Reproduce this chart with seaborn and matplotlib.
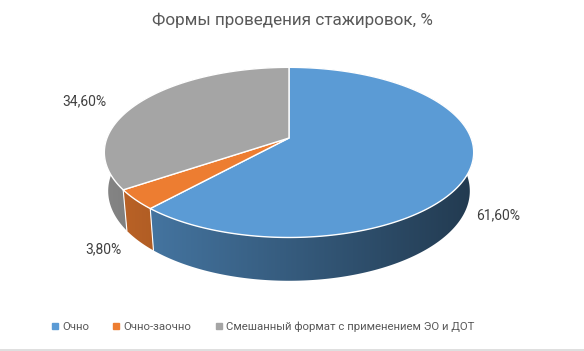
import numpy as np
import matplotlib
matplotlib.use("Agg")
import matplotlib.pyplot as plt
from matplotlib.patches import Polygon
from matplotlib.lines import Line2D
import seaborn as sns

# ---- data ----
categories = ["Очно", "Очно-заочно", "Смешанный формат с применением ЭО и ДОТ"]
values = [61.6, 3.8, 34.6]
value_labels = ["61,60%", "3,80%", "34,60%"]
title = "Формы проведения стажировок, %"
colors = ["#5B9BD5", "#ED7D31", "#A5A5A5"]

sns.set_theme(style="white")
plt.rcParams["font.family"] = ["Roboto", "DejaVu Sans"]
palette = sns.color_palette(colors)

W, H = 584, 351
fig = plt.figure(figsize=(W / 100, H / 100), dpi=100)
ax = fig.add_axes([0, 0, 1, 1])
ax.set_xlim(0, W)
ax.set_ylim(H, 0)
ax.axis("off")

# ---- 3D pie geometry (layout) ----
cx, cy = 289.0, 138.0
S = 182.0
elev = np.radians(27.0)
D = 5.26
h = 0.24


def proj(phi_deg, r, Y):
    phi = np.radians(phi_deg)
    X = r * np.sin(phi)
    Z = -r * np.cos(phi)
    yv = Y * np.cos(elev) - Z * np.sin(elev)
    zv = Y * np.sin(elev) + Z * np.cos(elev)
    s = D / (D - zv)
    return cx + X * s * S, cy - yv * s * S, zv


total = sum(values)
bounds = np.concatenate([[0], np.cumsum(values) / total * 360.0])

# walls with horizontal shading gradient
x0, x1 = cx - S - 10, cx + S + 10
xs = np.linspace(x0, x1, 400)
tt = np.clip((xs - (cx - S)) / (2 * S), 0, 1)
shade = 0.80 - 0.42 * tt
for i in range(len(values)):
    a, b = bounds[i], bounds[i + 1]
    ph = np.linspace(a, b, max(3, int((b - a) * 2)))
    top = [proj(p, 1, 0)[:2] for p in ph]
    bot = [proj(p, 1, -h)[:2] for p in ph[::-1]]
    wall = Polygon(top + bot, closed=True, facecolor="none", edgecolor="none")
    ax.add_patch(wall)
    img = np.array(palette[i])[None, None, :] * shade[None, :, None]
    im = ax.imshow(img, extent=(x0, x1, H, 0), aspect="auto", zorder=1,
                   interpolation="bilinear")
    im.set_clip_path(wall)
ax.set_xlim(0, W)
ax.set_ylim(H, 0)

# white vertical edges at slice boundaries on the front
for bnd in bounds[1:-1]:
    if np.cos(np.radians(bnd)) < 0:
        t0 = proj(bnd, 1, 0); b0 = proj(bnd, 1, -h)
        ax.plot([t0[0], b0[0]], [t0[1], b0[1]], color="white", lw=0.8, zorder=2)

# top faces
apex = proj(0, 0, 0)
for i in range(len(values)):
    a, b = bounds[i], bounds[i + 1]
    ph = np.linspace(a, b, max(3, int((b - a) * 2)))
    pts = [(apex[0], apex[1])] + [proj(p, 1, 0)[:2] for p in ph]
    ax.add_patch(Polygon(pts, closed=True, facecolor=palette[i], edgecolor="white",
                         lw=1.0, joinstyle="round", zorder=3))

# data labels
label_r = [1.17, 1.2, 1.42]
label_Y = [-h, -0.2, -0.08]
for i in range(len(values)):
    mid = (bounds[i] + bounds[i + 1]) / 2
    x, y, _ = proj(mid, label_r[i], label_Y[i])
    ax.text(x, y, value_labels[i], ha="center", va="center", fontsize=10,
            color="#404040", zorder=5)

# title
fig.text(0.5, 1 - 20 / H, title, ha="center", va="center", fontsize=12.3, color="#595959")

# legend
handles = [Line2D([0], [0], marker="s", linestyle="", markersize=4.2,
                  markerfacecolor=palette[i], markeredgecolor=palette[i]) for i in range(len(values))]
fig.legend(handles, categories, loc="center", bbox_to_anchor=(262.5 / W, 1 - 327 / H), ncol=3,
           frameon=False, fontsize=8.2, labelcolor="#595959", handletextpad=0.25,
           columnspacing=2.0, handlelength=0.8)

ax.plot([0, W], [349.5, 349.5], color="#D9D9D9", lw=1.2, zorder=0)

fig.savefig("out.png", dpi=100, facecolor="white")
